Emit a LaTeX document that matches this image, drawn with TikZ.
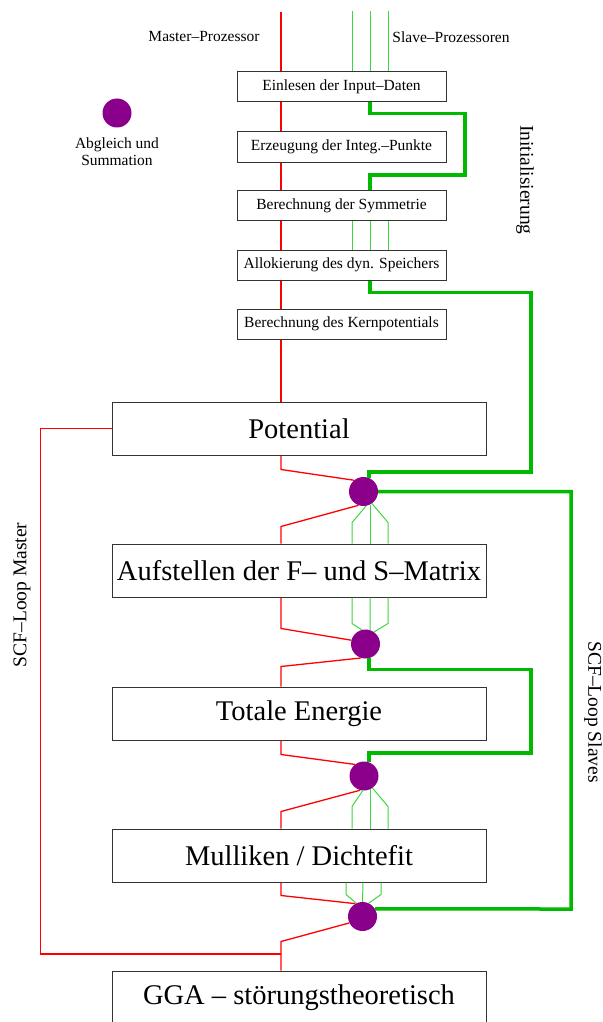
\documentclass[tikz,border=0pt]{standalone}
\usepackage{fontspec}
\setmainfont{Liberation Serif}
\definecolor{bundlegreen}{RGB}{0,185,0}
\definecolor{slavegreen}{RGB}{60,215,60}
\definecolor{syncpurple}{RGB}{139,0,139}
\definecolor{masterred}{RGB}{255,0,0}

\begin{document}
\begin{tikzpicture}[x=1pt,y=-1pt,
    smallbox/.style={draw=black!80,fill=white,line width=1pt,minimum width=209pt,minimum height=30pt,inner sep=0pt,font=\fontsize{15.5}{18}\selectfont},
    bigbox/.style={draw=black!80,fill=white,line width=1pt,minimum width=374pt,minimum height=53pt,inner sep=0pt,font=\fontsize{28.5}{34}\selectfont},
    sync/.style={circle,fill=syncpurple,minimum size=29pt,inner sep=0pt},
    master/.style={draw=masterred,line width=1.3pt},
    slave/.style={draw=slavegreen,line width=1pt},
    bundle/.style={draw=bundlegreen,line width=3.5pt},
    lbl/.style={font=\fontsize{15.5}{17}\selectfont},
    looplbl/.style={font=\fontsize{19.5}{23}\selectfont}]
            \useasboundingbox (0,0) rectangle (602,1022);
            \coordinate (mtop) at (281,12);
            \coordinate (sl) at (352,11);
            \coordinate (sm) at (370,11);
            \coordinate (sr) at (388,11);
            \coordinate (ql) at (346,0);
            \coordinate (qm) at (363,0);
            \coordinate (qr) at (381,0);
            \coordinate (mjoin) at (281,954);
            \node[lbl] (mlabel) at (204,37) {Master--Prozessor};
            \node[lbl] (slabel) at (451,37) {Slave--Prozessoren};
            \node[sync] (leg) at (117,113) {};
            \node[lbl,align=center] (legtext) at (117,152) {Abgleich und\\Summation};
            \node[looplbl,rotate=-90] (initlabel) at (525,180) {Initialisierung};
            \node[looplbl,rotate=-90] (slavelabel) at (593,712) {SCF--Loop Slaves};
            \node[looplbl,rotate=90] (masterlabel) at (22,595) {SCF--Loop Master};
            \node[smallbox] (einlesen) at (341.5,87) {Einlesen der Input--Daten};
            \node[smallbox] (erzeugung) at (341.5,147) {Erzeugung der Integ.--Punkte};
            \node[smallbox] (symmetrie) at (341.5,205.5) {Berechnung der Symmetrie};
            \node[smallbox] (allokierung) at (341.5,265) {Allokierung des dyn. Speichers};
            \node[smallbox] (kernpot) at (341.5,324) {Berechnung des Kernpotentials};
            \node[bigbox] (potential) at (299,428.5) {Potential};
            \node[bigbox] (fsmatrix) at (299,570.5) {Aufstellen der F-- und S--Matrix};
            \node[bigbox] (energie) at (299,713.5) {Totale Energie};
            \node[bigbox] (mulliken) at (299,855.5) {Mulliken / Dichtefit};
            \node[bigbox] (gga) at (299,997.5) {GGA -- störungstheoretisch};
            \node[sync] (s1) at (363.5,491.5) {};
            \node[sync] (s2) at (365.5,644) {};
            \node[sync] (s3) at (364,776) {};
            \node[sync] (s4) at (362.5,916.5) {};
            % master
            \draw [master] (mtop) -- (mtop |- einlesen.north);
            \foreach \a/\b in {einlesen/erzeugung,erzeugung/symmetrie,symmetrie/allokierung,allokierung/kernpot,kernpot/potential}
                \draw [master] (mtop |- \a.south) -- (mtop |- \b.north);
            \draw [master] (mtop |- potential.south) -- ++(0,14) -- (s1.130);
            \draw [master] (mtop |- fsmatrix.north) -- ++(0,-17) -- (s1.250);
            \draw [master] (mtop |- fsmatrix.south) -- ++(0,31) -- (s2.165);
            \draw [master] (mtop |- energie.north) -- ++(0,-20) -- (s2.252);
            \draw [master] (mtop |- energie.south) -- ++(0,14) -- (s3.128);
            \draw [master] (mtop |- mulliken.north) -- ++(0,-17) -- (s3.255);
            \draw [master] (mtop |- mulliken.south) -- ++(0,13) -- (s4.119);
            \draw [master] (mtop |- gga.north) -- ++(0,-29) -- (s4.206);
            \draw [master] (potential.west) -- ++(-71,0) |- (mjoin);
            % slaves
            \foreach \s in {sl,sm,sr}
                \draw [slave] (\s) -- (\s |- einlesen.north);
            \foreach \s in {sl,sm,sr}
                \draw [slave] (\s |- symmetrie.south) -- (\s |- allokierung.north);
            \draw [bundle] (sm |- einlesen.south) -- ++(0,11) -| (465,175) -| (sm |- symmetrie.north);
            \draw [bundle] (sm |- allokierung.south) -- ++(0,12) -| (531,472) -| (s1.68);
            \draw [bundle] (s1.east) -| (571,909) -- (s4.31);
            \draw [slave] (sl |- fsmatrix.north) -- ++(0,-21) -- (s1.280);
            \draw [slave] (s1.295 -| sm) -- (sm |- fsmatrix.north);
            \draw [slave] (sr |- fsmatrix.north) -- ++(0,-21) -- (s1.305);
            \draw [slave] (sl |- fsmatrix.south) -- ++(0,26) -- (s2.105);
            \draw [slave] (sm |- fsmatrix.south) -- (s2.72);
            \draw [slave] (sr |- fsmatrix.south) -- ++(0,26) -- (s2.55);
            \draw [bundle] (s2.284) -- ++(0,11) -| (531,753) -| (s3.70);
            \draw [slave] (sl |- mulliken.north) -- ++(0,-22) -- (s3.265);
            \draw [slave] (s3.295 -| sm) -- (sm |- mulliken.north);
            \draw [slave] (sr |- mulliken.north) -- ++(0,-22) -- (s3.305);
            \draw [slave] (ql |- mulliken.south) -- ++(0,12) -- (s4.115);
            \draw [slave] (qm |- mulliken.south) -- (s4.north);
            \draw [slave] (qr |- mulliken.south) -- ++(0,12) -- (s4.65);
        \end{tikzpicture}
\end{document}
